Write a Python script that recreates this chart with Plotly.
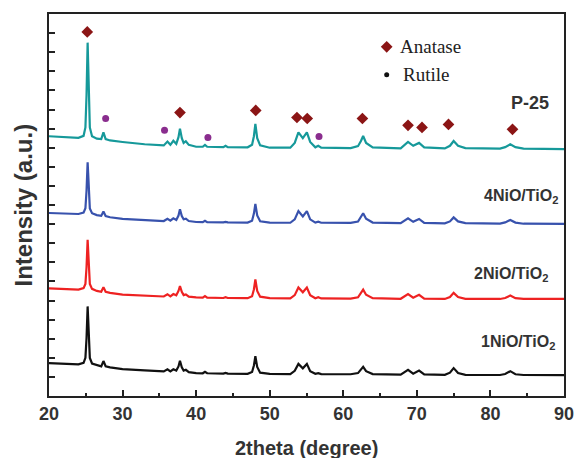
import plotly.graph_objects as go

# shared 2theta grid (degree)
two_theta = [20, 22, 24, 24.7, 24.95, 25.1, 25.18, 25.25, 25.32, 25.4, 25.55, 25.85, 26.5, 27.1, 27.4, 27.7, 28.3,
             30, 33, 35.6, 36.1, 36.5, 36.9, 37.3, 37.6, 37.8, 38.05, 38.3, 38.6, 39.0, 40.0,
             40.9, 41.2, 41.5, 43.7, 44.0, 44.3, 47.0, 47.6, 47.85, 48.05, 48.3, 48.7, 50.0,
             52.8, 53.4, 53.9, 54.5, 55.05, 55.5, 56.2, 56.6, 57.0, 61.0, 62.0, 62.4, 62.7,
             63.1, 64.0, 67.8, 68.8, 69.5, 70.3, 71.0, 73.8, 74.5, 75.0, 75.6, 76.6, 81.3,
             82.0, 82.7, 83.4, 84.5, 87.0, 90.0]

p25 = [13.60, 13.55, 13.52, 13.62, 14.06, 15.73, 17.49, 18.50, 17.49, 15.73, 14.06, 13.60, 13.47, 13.45, 13.80, 13.45, 13.38,
       13.30, 13.18, 13.12, 13.32, 13.15, 13.36, 13.20, 13.55, 14.00, 13.50, 13.25, 13.34, 13.15, 13.05,
       13.05, 13.15, 13.05, 13.03, 13.10, 13.03, 13.02, 13.15, 13.60, 14.25, 13.50, 13.12, 13.00,
       13.00, 13.25, 13.80, 13.50, 13.80, 13.30, 13.02, 13.10, 13.00, 12.98, 13.08, 13.35, 13.61,
       13.25, 13.02, 12.97, 13.30, 13.10, 13.25, 13.02, 12.96, 13.10, 13.35, 13.10, 12.98, 12.95,
       13.03, 13.18, 13.03, 12.95, 12.94, 12.93]

nio4 = [9.58, 9.56, 9.53, 9.60, 9.83, 10.73, 11.69, 12.24, 11.69, 10.73, 9.82, 9.57, 9.47, 9.43, 9.66, 9.42, 9.36,
        9.27, 9.20, 9.16, 9.28, 9.18, 9.30, 9.22, 9.45, 9.78, 9.42, 9.25, 9.28, 9.16, 9.11,
        9.10, 9.17, 9.10, 9.09, 9.12, 9.09, 9.08, 9.18, 9.55, 10.05, 9.45, 9.15, 9.08,
        9.07, 9.25, 9.68, 9.40, 9.68, 9.25, 9.08, 9.13, 9.07, 9.06, 9.13, 9.35, 9.57,
        9.28, 9.08, 9.05, 9.30, 9.12, 9.27, 9.06, 9.04, 9.14, 9.35, 9.14, 9.05, 9.03,
        9.09, 9.22, 9.08, 9.02, 9.02, 9.01]

nio2 = [5.63, 5.60, 5.57, 5.65, 5.87, 6.73, 7.65, 8.18, 7.65, 6.73, 5.86, 5.61, 5.50, 5.46, 5.70, 5.46, 5.40,
        5.31, 5.25, 5.21, 5.33, 5.22, 5.34, 5.27, 5.50, 5.76, 5.45, 5.28, 5.32, 5.20, 5.16,
        5.15, 5.23, 5.15, 5.13, 5.17, 5.13, 5.12, 5.22, 5.58, 6.10, 5.50, 5.20, 5.12,
        5.11, 5.28, 5.68, 5.43, 5.68, 5.28, 5.12, 5.17, 5.11, 5.10, 5.17, 5.37, 5.57,
        5.30, 5.12, 5.09, 5.34, 5.15, 5.30, 5.10, 5.08, 5.18, 5.40, 5.18, 5.09, 5.08,
        5.13, 5.26, 5.12, 5.08, 5.08, 5.08]

nio1 = [1.72, 1.70, 1.66, 1.74, 2.00, 3.01, 4.08, 4.69, 4.08, 3.01, 1.99, 1.70, 1.60, 1.55, 1.83, 1.56, 1.50,
        1.41, 1.34, 1.29, 1.40, 1.29, 1.40, 1.33, 1.55, 1.85, 1.50, 1.33, 1.37, 1.25, 1.20,
        1.19, 1.27, 1.19, 1.17, 1.21, 1.17, 1.16, 1.26, 1.60, 2.08, 1.52, 1.22, 1.16,
        1.15, 1.32, 1.68, 1.45, 1.68, 1.30, 1.16, 1.20, 1.15, 1.14, 1.20, 1.37, 1.53,
        1.30, 1.15, 1.12, 1.37, 1.17, 1.33, 1.13, 1.11, 1.22, 1.46, 1.20, 1.11, 1.10,
        1.15, 1.30, 1.14, 1.10, 1.10, 1.09]

# phase markers above the P-25 pattern
anatase_x = [25.2, 37.8, 48.1, 53.7, 55.1, 62.6, 68.8, 70.7, 74.3, 83.0]
anatase_y = [19.06, 14.84, 14.95, 14.58, 14.53, 14.53, 14.17, 14.06, 14.22, 13.96]
rutile_x = [27.7, 35.7, 41.6, 56.7]
rutile_y = [14.53, 13.91, 13.54, 13.59]

series_names = ["P-25", "4NiO/TiO<sub>2</sub>", "2NiO/TiO<sub>2</sub>", "1NiO/TiO<sub>2</sub>"]
series_data = [p25, nio4, nio2, nio1]
series_colors = ["#16999a", "#3852ad", "#ee2222", "#111111"]
label_x = [85.4, 84.1, 82.8, 83.7]
label_y = [15.36, 10.42, 6.35, 2.81]
label_sizes = [18, 16, 16, 16]

fig = go.Figure()
for name, ys, col in zip(series_names, series_data, series_colors):
    fig.add_trace(go.Scatter(x=two_theta, y=ys, mode="lines", name=name,
                             line=dict(color=col, width=2.2), showlegend=False))

fig.add_trace(go.Scatter(x=anatase_x, y=anatase_y, mode="markers", showlegend=False,
                         marker=dict(symbol="diamond", size=9, color="#8b1515")))
fig.add_trace(go.Scatter(x=rutile_x, y=rutile_y, mode="markers", showlegend=False,
                         marker=dict(symbol="circle", size=7, color="#8a2d8e")))

# legend (drawn in data space)
fig.add_trace(go.Scatter(x=[65.9], y=[18.28], mode="markers", showlegend=False,
                         marker=dict(symbol="diamond", size=9, color="#8b1515")))
fig.add_trace(go.Scatter(x=[65.9], y=[16.82], mode="markers", showlegend=False,
                         marker=dict(symbol="circle", size=5, color="#111111")))

annotations = [
    dict(x=67.5, y=18.28, text="Anatase", xanchor="left", yanchor="middle", showarrow=False,
         font=dict(family="Liberation Serif", size=19, color="#222")),
    dict(x=67.9, y=16.82, text="Rutile", xanchor="left", yanchor="middle", showarrow=False,
         font=dict(family="Liberation Serif", size=19, color="#222")),
]
for name, lx, ly, fs in zip(series_names, label_x, label_y, label_sizes):
    annotations.append(dict(x=lx, y=ly, text="<b>" + name + "</b>", showarrow=False,
                            xanchor="center", yanchor="middle",
                            font=dict(family="Liberation Sans", size=fs, color="#333")))
annotations.append(dict(xref="paper", yref="paper", x=0.5, y=-0.135, text="<b>2theta (degree)</b>",
                        showarrow=False, xanchor="center", yanchor="middle",
                        font=dict(family="Liberation Sans", size=20, color="#333")))
annotations.append(dict(xref="paper", yref="paper", x=-0.0514, y=0.5, text="<b>Intensity (a.u.)</b>",
                        showarrow=False, xanchor="center", yanchor="middle", textangle=-90,
                        font=dict(family="Liberation Sans", size=24, color="#333")))

fig.update_layout(
    width=586, height=458,
    margin=dict(l=49, r=12, t=12, b=62),
    paper_bgcolor="white", plot_bgcolor="white",
    annotations=annotations,
    xaxis=dict(range=[20, 90], dtick=10, tick0=20, ticks="inside", ticklen=6, tickwidth=1.5,
               tickcolor="#222", showline=True, linecolor="#222", linewidth=2, mirror=True,
               showgrid=False, zeroline=False,
               tickfont=dict(family="Liberation Sans", size=18, color="#333", weight="bold"),
               minor=dict(dtick=5, tick0=20, ticks="inside", ticklen=3, tickwidth=1.5, tickcolor="#222",
                          showgrid=False)),
    yaxis=dict(range=[0, 20], dtick=1, tick0=0, ticks="inside", ticklen=6, tickwidth=1.5,
               tickcolor="#222", showline=True, linecolor="#222", linewidth=2, mirror=True,
               showgrid=False, zeroline=False, showticklabels=False),
)

fig.write_html("out.html")
